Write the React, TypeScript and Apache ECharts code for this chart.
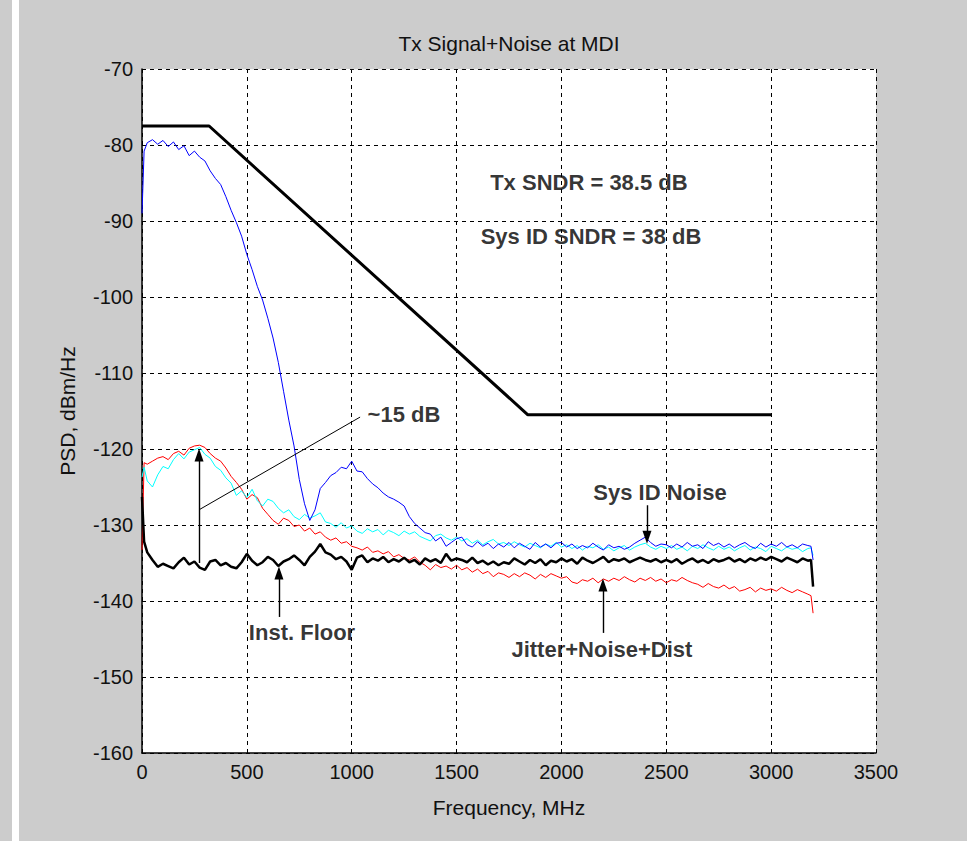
import React, { useEffect, useRef } from 'react';
import * as echarts from 'echarts';

// Frequency grid of the measured traces (MHz)
const freqMHz = [
  0, 10,
  25, 50, 75, 100, 125, 150, 175, 200, 225, 250,
  275, 300, 325, 350, 375, 400, 425, 450, 475, 500,
  525, 550, 575, 600, 625, 650, 675, 700, 725, 750,
  775, 800, 825, 850, 875, 900, 925, 950, 975, 1000,
  1025, 1050, 1075, 1100, 1125, 1150, 1175, 1200, 1225, 1250,
  1275, 1300, 1325, 1350, 1375, 1400, 1425, 1450, 1475, 1500,
  1525, 1550, 1575, 1600, 1625, 1650, 1675, 1700, 1725, 1750,
  1775, 1800, 1825, 1850, 1875, 1900, 1925, 1950, 1975, 2000,
  2025, 2050, 2075, 2100, 2125, 2150, 2175, 2200, 2225, 2250,
  2275, 2300, 2325, 2350, 2375, 2400, 2425, 2450, 2475, 2500,
  2525, 2550, 2575, 2600, 2625, 2650, 2675, 2700, 2725, 2750,
  2775, 2800, 2825, 2850, 2875, 2900, 2925, 2950, 2975, 3000,
  3025, 3050, 3075, 3100, 3125, 3150, 3175,
  3190, 3200,
];

// Tx signal PSD (blue), dBm/Hz
const txSignal = [
  -89.0, -80.8,
  -79.7, -79.3, -79.9, -79.4, -80.2, -79.6, -80.6, -80.1, -81.4, -80.8,
  -81.6, -82.1, -83.4, -84.4, -85.2, -86.8, -88.6, -90.2, -92.0, -94.4,
  -96.4, -98.6, -100.4, -102.8, -105.4, -108.6, -112.4, -116.2, -119.6, -124.0,
  -127.2, -129.4, -128.0, -125.2, -124.4, -123.5, -123.1, -122.4, -122.6, -121.6,
  -122.9, -123.0, -123.9, -124.6, -125.1, -125.8, -126.3, -126.6, -127.0, -127.5,
  -128.9, -129.8, -130.4, -131.0, -131.2, -132.1, -131.6, -132.8, -132.3, -131.8,
  -131.6, -132.6, -132.9, -132.2, -132.8, -132.4, -133.1, -132.5, -132.9, -132.3,
  -133.0, -132.4, -132.8, -133.2, -132.3, -132.9, -132.5, -133.0, -132.4, -132.3,
  -132.9, -132.5, -133.1, -132.7, -133.0, -132.4, -132.9, -133.3, -132.6, -133.0,
  -132.8, -133.2, -132.9, -132.4, -132.0, -131.6, -132.3, -132.8, -132.5, -132.6,
  -133.0, -132.5, -132.9, -132.3, -132.8, -132.6, -133.1, -132.2, -132.7, -132.4,
  -132.9, -132.5, -133.0, -132.6, -132.3, -132.8, -133.1, -132.4, -132.9, -132.5,
  -132.8, -132.3, -132.9, -132.6, -133.0, -132.5, -132.7,
  -132.8, -134.6,
];

// Sys ID noise PSD (cyan), dBm/Hz
const sysIdNoise = [
  -123.7, -122.4,
  -124.2, -125.0, -123.4, -122.3, -122.6, -121.4, -120.6, -121.3, -120.4, -120.1,
  -119.8, -120.7, -121.2, -122.3, -122.8, -123.8, -124.5, -126.1, -125.5, -126.4,
  -125.3, -126.8, -127.5, -126.6, -126.9, -127.8, -128.4, -128.0, -128.9, -129.3,
  -128.6, -129.1, -128.8, -128.4, -129.6, -129.8, -130.3, -129.7, -130.4, -130.1,
  -130.8, -131.1, -130.5, -130.9, -130.6, -131.3, -130.7, -131.0, -131.4, -130.8,
  -131.2, -130.9, -131.5, -131.8, -132.1, -131.4, -131.2, -131.7, -132.0, -131.6,
  -132.1, -131.8, -132.4, -132.0, -132.6, -132.2, -131.9, -132.5, -132.3, -132.7,
  -132.2, -132.6, -132.9, -132.4, -132.7, -133.0, -132.5, -132.8, -132.3, -132.9,
  -132.6, -133.1, -132.7, -133.3, -132.8, -133.0, -132.6, -133.2, -132.9, -133.4,
  -133.0, -132.7, -133.3, -132.9, -132.6, -132.4, -132.9, -133.2, -132.8, -133.1,
  -132.7, -133.2, -132.9, -133.4, -132.8, -133.1, -132.6, -133.0, -133.3, -132.8,
  -133.2, -132.9, -133.4, -133.0, -132.7, -133.3, -132.9, -133.1, -133.5, -132.8,
  -133.1, -133.4, -132.9, -133.2, -133.0, -133.5, -133.1,
  -133.0, -134.0,
];

// Jitter + noise + distortion PSD (red), dBm/Hz
const jitterNoiseDist = [
  -133.3, -121.8,
  -122.0, -121.6, -121.2, -121.0, -121.4, -120.6, -120.3, -120.8, -119.9, -119.6,
  -119.5, -119.8, -120.6, -121.2, -121.6, -122.5, -123.6, -124.4, -125.3, -126.6,
  -126.0, -126.4, -127.8, -128.6, -129.4, -129.9, -129.1, -129.4, -130.2, -130.0,
  -130.8, -130.4, -131.2, -130.9, -131.6, -132.0, -131.7, -132.4, -132.2, -132.8,
  -133.0, -133.3, -132.9, -133.6, -133.4, -133.8, -133.5, -134.2, -133.9, -134.4,
  -134.6, -134.2, -134.9, -135.3, -135.9, -135.2, -135.6, -135.4, -135.8, -135.3,
  -135.9, -135.6, -136.2, -135.8, -136.4, -136.1, -136.8, -136.3, -136.5, -136.9,
  -136.4, -136.8, -136.3, -136.6, -137.1, -136.5, -136.9, -136.4, -136.7, -137.0,
  -136.8, -137.5, -137.7, -137.2, -137.4, -137.0, -137.6, -137.1, -137.4, -137.0,
  -137.3, -136.8, -137.2, -137.5, -137.0, -137.3, -136.9, -137.4, -137.1, -137.6,
  -137.2, -137.4, -136.9, -137.3, -137.6, -137.8, -138.2, -137.7, -138.1, -138.3,
  -137.9, -138.4, -138.1, -138.7, -138.5, -138.2, -138.8, -138.3, -138.6, -138.4,
  -138.7, -138.2, -138.6, -138.9, -138.5, -138.8, -139.1,
  -139.3, -141.6,
];

// Instrument floor PSD (black), dBm/Hz
const instFloor = [
  -126.3, -132.2,
  -133.6, -134.6, -135.5, -135.1, -135.4, -135.7, -134.9, -134.3, -135.2, -134.8,
  -135.6, -135.9, -134.8, -134.6, -135.3, -135.0, -135.5, -135.7, -134.9, -133.8,
  -134.7, -135.3, -134.9, -134.2, -134.6, -135.4, -134.8, -134.5, -134.0, -134.6,
  -135.3, -134.2, -133.5, -132.5, -133.6, -133.9, -134.5, -134.2, -134.8, -135.9,
  -134.3, -134.0, -134.9, -134.4, -134.7, -134.2, -134.9, -134.5, -134.8, -134.3,
  -134.9, -134.6, -135.2, -134.4, -134.8, -134.5, -135.0, -133.8, -134.7, -134.4,
  -134.6, -134.9, -134.3, -135.0, -134.7, -135.2, -134.8, -135.3, -134.9, -135.1,
  -134.4, -134.8, -135.2, -134.6, -135.0, -134.5, -135.3, -134.7, -134.9, -134.4,
  -134.8, -134.5, -135.1, -134.3, -134.7, -135.0, -134.6, -134.2, -134.9, -134.5,
  -134.7, -134.4, -134.9, -134.6, -134.3, -134.6, -134.8, -134.5, -134.9, -134.6,
  -134.9, -134.5, -135.1, -134.7, -134.4, -134.9, -134.6, -135.0, -134.5, -134.8,
  -134.6, -134.3, -134.8, -134.5, -134.9, -134.4, -134.7, -134.3, -134.6, -134.2,
  -134.5, -134.8, -134.3, -134.6, -134.9, -134.4, -134.7,
  -134.6, -138.1,
];

// Transmit PSD mask (thick black)
const maskFreq = [0, 320, 1840, 3000];
const maskPsd = [-77.5, -77.5, -115.5, -115.5];

// Text annotations (centre, in data units)
const noteTexts = ['Tx SNDR = 38.5 dB', 'Sys ID SNDR = 38 dB', '~15 dB', 'Inst. Floor', 'Sys ID Noise', 'Jitter+Noise+Dist'];
const noteFreq = [2131, 2141, 1249, 763, 2470, 2193];
const notePsd = [-84.9, -92.1, -115.5, -144.2, -125.7, -146.4];

// Arrows / leader line (from -> to, data units); head at "to" when flagged
const arrowFrom = [[272, -135.0], [272, -128.0], [653, -142.1], [2408, -127.4], [2198, -144.2]];
const arrowTo = [[272, -120.8], [1040, -115.8], [653, -136.3], [2408, -131.6], [2198, -137.9]];
const arrowHead = [true, false, true, true, true];

const zip = (xs: number[], ys: number[]) => xs.map((x, i) => [x, ys[i]]);

export default function App() {
  const ref = useRef<HTMLDivElement>(null);

  useEffect(() => {
    const chart = echarts.init(ref.current as HTMLDivElement, null, { renderer: 'svg' });
    const font = "'Liberation Sans', Arial, Helvetica, sans-serif";

    const trace = (name: string, ys: number[], color: string, width: number, z: number, xs = freqMHz) => ({
      name,
      type: 'line',
      data: zip(xs, ys),
      showSymbol: false,
      symbol: 'none',
      lineStyle: { color, width },
      itemStyle: { color },
      z,
      silent: true,
      emphasis: { disabled: true },
    });

    const gridLine = { show: true, lineStyle: { color: '#000', width: 1, type: [4, 4] } };

    chart.setOption({
      animation: false,
      backgroundColor: '#cccccc',
      grid: {
        left: 142,
        top: 69,
        width: 734,
        height: 684,
        show: true,
        backgroundColor: '#ffffff',
        borderWidth: 0,
      },
      xAxis: {
        type: 'value',
        min: 0,
        max: 3500,
        interval: 500,
        axisLine: { onZero: false, lineStyle: { color: '#000', width: 1.5 } },
        axisTick: { show: false },
        axisLabel: {
          color: '#111',
          fontSize: 20,
          fontFamily: font,
          margin: 9,
          formatter: (v: number) => String(v),
        },
        splitLine: gridLine,
        name: 'Frequency, MHz',
        nameLocation: 'middle',
        nameGap: 44,
        nameTextStyle: { color: '#111', fontSize: 21, fontFamily: font },
      },
      yAxis: {
        type: 'value',
        min: -160,
        max: -70,
        interval: 10,
        axisLine: { onZero: false, lineStyle: { color: '#000', width: 1.5 } },
        axisTick: { show: false },
        axisLabel: {
          color: '#111',
          fontSize: 20,
          fontFamily: font,
          margin: 9,
          formatter: (v: number) => String(v),
        },
        splitLine: gridLine,
        name: 'PSD, dBm/Hz',
        nameLocation: 'middle',
        nameGap: 64,
        nameTextStyle: { color: '#111', fontSize: 21, fontFamily: font },
      },
      graphic: [
        { type: 'rect', shape: { x: 12, y: 0, width: 7, height: 841 }, style: { fill: '#ffffff' }, silent: true },
        {
          type: 'text',
          x: 509,
          y: 43,
          style: {
            text: 'Tx Signal+Noise at MDI',
            fill: '#111',
            font: `21px ${font}`,
            align: 'center',
            verticalAlign: 'middle',
          },
          silent: true,
        },
      ],
      series: [
        trace('Jitter+Noise+Dist', jitterNoiseDist, '#ff0000', 1, 2),
        trace('Sys ID Noise', sysIdNoise, '#00ffff', 1, 3),
        trace('Tx Signal', txSignal, '#0000ff', 1, 4),
        trace('Inst. Floor', instFloor, '#000000', 2.5, 5),
        trace('Mask', maskPsd, '#000000', 3, 6, maskFreq),
        {
          name: 'notes',
          type: 'scatter',
          z: 10,
          silent: true,
          symbolSize: 0,
          itemStyle: { color: 'rgba(0,0,0,0)' },
          emphasis: { disabled: true },
          label: {
            show: true,
            position: 'inside',
            color: '#000',
            fontSize: 22,
            fontWeight: 'bold',
            fontFamily: font,
            textBorderWidth: 0,
          },
          data: noteTexts.map((t, i) => ({
            value: [noteFreq[i], notePsd[i]],
            label: { formatter: t },
          })),
          markLine: {
            silent: true,
            animation: false,
            symbol: ['none', 'none'],
            label: { show: false },
            emphasis: { disabled: true },
            lineStyle: { color: '#000', width: 1.3, type: 'solid' },
            data: arrowFrom.map((p, i) => [
              {
                coord: p,
                symbol: 'none',
                lineStyle: { color: '#000', width: arrowHead[i] ? 1.4 : 1, type: 'solid' },
              },
              {
                coord: arrowTo[i],
                symbol: arrowHead[i] ? 'triangle' : 'none',
                symbolSize: [9, 13],
                lineStyle: { color: '#000', width: arrowHead[i] ? 1.4 : 1, type: 'solid' },
              },
            ]),
          },
        },
      ],
    });

    return () => chart.dispose();
  }, []);

  return (
    <div
      ref={ref}
      style={{ position: 'fixed', left: 0, top: 0, width: 967, height: 841 }}
    />
  );
}
